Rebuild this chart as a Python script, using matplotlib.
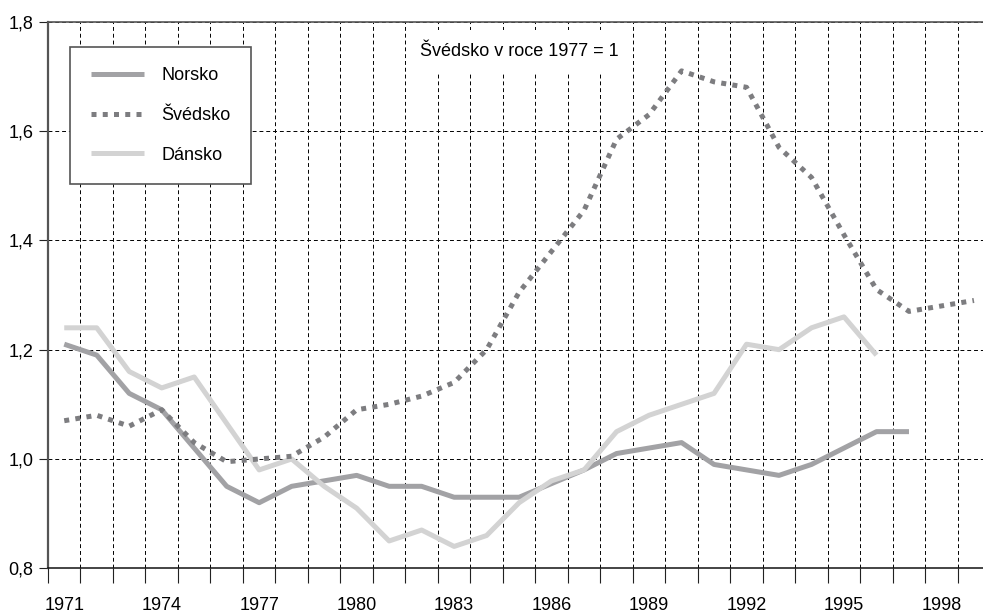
import matplotlib
matplotlib.use('Agg')
import matplotlib.pyplot as plt
from matplotlib.ticker import FixedLocator, FixedFormatter

# data (index, Svedsko 1977 = 1)
roky = list(range(1971, 2000))
norsko = [1.21, 1.19, 1.12, 1.09, 1.02, 0.95, 0.92, 0.95, 0.96, 0.97,
          0.95, 0.95, 0.93, 0.93, 0.93, 0.955, 0.98, 1.01, 1.02, 1.03,
          0.99, 0.98, 0.97, 0.99, 1.02, 1.05, 1.05]
svedsko = [1.07, 1.08, 1.06, 1.09, 1.03, 0.995, 1.0, 1.005, 1.04, 1.09,
           1.10, 1.115, 1.14, 1.20, 1.305, 1.38, 1.455, 1.585, 1.63, 1.71,
           1.69, 1.68, 1.57, 1.515, 1.41, 1.31, 1.27, 1.28, 1.29]
dansko = [1.24, 1.24, 1.16, 1.13, 1.15, 1.065, 0.98, 1.0, 0.95, 0.91,
          0.85, 0.87, 0.84, 0.86, 0.92, 0.96, 0.98, 1.05, 1.08, 1.10,
          1.12, 1.21, 1.20, 1.24, 1.26, 1.19]
popisky_let = [1971, 1974, 1977, 1980, 1983, 1986, 1989, 1992, 1995, 1998]
popisky_y = ['0,8', '1,0', '1,2', '1,4', '1,6', '1,8']
hodnoty_y = [0.8, 1.0, 1.2, 1.4, 1.6, 1.8]

plt.rcParams['font.family'] = ['Liberation Sans', 'DejaVu Sans']

fig = plt.figure(figsize=(9.83, 6.15), dpi=100)
ax = fig.add_axes([48/983, (615-568.3)/615, 935/983, 546.6/615])

ax.plot(roky[:len(norsko)], norsko, color='#a2a2a5', lw=3.6, solid_capstyle='butt', label='Norsko', zorder=3)
ax.plot(roky[:len(svedsko)], svedsko, color='#7d7d80', lw=3.6, linestyle=(0, (1, 1.25)),
        dash_capstyle='butt', label='Švédsko', zorder=4)
ax.plot(roky[:len(dansko)], dansko, color='#d3d3d3', lw=3.6, solid_capstyle='butt', label='Dánsko', zorder=3)

ax.set_xlim(1970.5, 1970.5 + 935/32.49)
ax.set_ylim(0.8, 1.8)

# hranice let jako hlavni ticky, popisky uprostred
hranice = [r - 0.5 for r in roky] + [roky[-1] + 0.5]
ax.xaxis.set_major_locator(FixedLocator(hranice))
ax.xaxis.set_major_formatter(FixedFormatter([''] * len(hranice)))
ax.xaxis.set_minor_locator(FixedLocator(popisky_let))
ax.xaxis.set_minor_formatter(FixedFormatter([str(r) for r in popisky_let]))
ax.tick_params(axis='x', which='major', length=11, width=0.8, color='#222222', direction='out')
ax.tick_params(axis='x', which='minor', length=0, pad=20.5, labelsize=13)

ax.set_yticks(hodnoty_y)
ax.set_yticklabels(popisky_y)
ax.tick_params(axis='y', length=6.5, width=0.8, color='#222222', pad=4, labelsize=13)

ax.grid(True, which='major', color='black', lw=0.7, linestyle=(0, (4, 3)), zorder=0)
ax.set_axisbelow(True)

ax.spines['right'].set_visible(False)
ax.spines['top'].set_color('#555555')
ax.spines['top'].set_linewidth(1.2)
ax.spines['left'].set_color('#555555')
ax.spines['left'].set_linewidth(1.6)
ax.spines['bottom'].set_color('#111111')
ax.spines['bottom'].set_linewidth(1.1)

ax.text(1985.0, 1.745, 'Švédsko v roce 1977 = 1', fontsize=13, ha='center', va='center',
        bbox=dict(boxstyle='square,pad=0.75', facecolor='white', edgecolor='none'), zorder=5)

leg = ax.legend(loc='upper left', bbox_to_anchor=(22/935, 1 - 25/546.6), fontsize=13,
                handlelength=2.95, handletextpad=0.95, labelspacing=1.25, borderpad=1.15,
                borderaxespad=0, fancybox=False, framealpha=1, edgecolor='#555555')
leg.get_frame().set_linewidth(1.2)
leg.set_zorder(6)

fig.savefig('out.png', dpi=100)
